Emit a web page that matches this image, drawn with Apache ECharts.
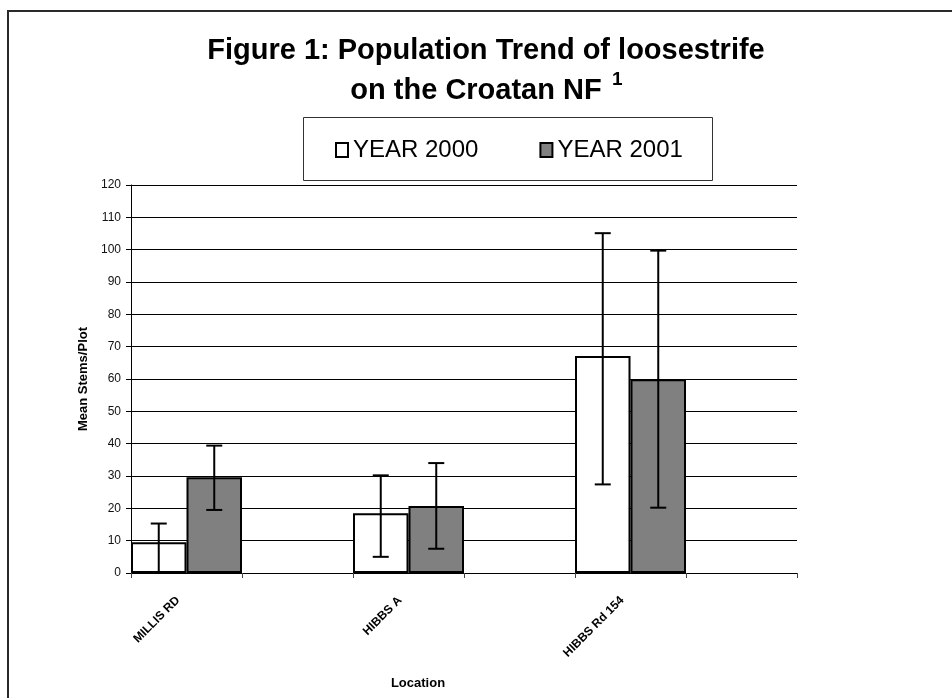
<!DOCTYPE html>
<html>
<head>
<meta charset="utf-8">
<script src="https://cdn.jsdelivr.net/npm/echarts@6/dist/echarts.min.js"></script>
<style>
html,body{margin:0;padding:0;background:#fff;}
#main{width:952px;height:698px;}
</style>
</head>
<body>
<div id="main"></div>
<script>
var categories = ['MILLIS RD', '', 'HIBBS A', '', 'HIBBS Rd 154', ''];
var seriesNames = ['YEAR 2000', 'YEAR 2001'];
var values2000 = [9.5, null, 18.5, null, 67.1, null];
var values2001 = [29.6, null, 20.7, null, 59.9, null];
var err2000Low = [0, null, 5.0, null, 27.4, null];
var err2000High = [15.3, null, 30.2, null, 105.1, null];
var err2001Low = [19.5, null, 7.5, null, 20.2, null];
var err2001High = [39.4, null, 34.0, null, 99.7, null];
var yTicks = [0, 10, 20, 30, 40, 50, 60, 70, 80, 90, 100, 110, 120];

var FONT = '"Liberation Sans", Arial, sans-serif';

function errData(low, high) {
  var out = [];
  for (var i = 0; i < low.length; i++) {
    if (low[i] !== null && high[i] !== null) out.push([i, low[i], high[i]]);
  }
  return out;
}

function makeErrRender(side) {
  return function (params, api) {
    var cat = api.value(0);
    var lo = api.coord([cat, api.value(1)]);
    var hi = api.coord([cat, api.value(2)]);
    var band = api.size([1, 0])[0];
    var x = lo[0] + side * band / 4;
    var cap = 8;
    var st = { stroke: '#000', lineWidth: 2 };
    return {
      type: 'group',
      children: [
        { type: 'line', shape: { x1: x, y1: hi[1], x2: x, y2: lo[1] }, style: st },
        { type: 'line', shape: { x1: x - cap, y1: hi[1], x2: x + cap, y2: hi[1] }, style: st },
        { type: 'line', shape: { x1: x - cap, y1: lo[1], x2: x + cap, y2: lo[1] }, style: st }
      ]
    };
  };
}

var chart = echarts.init(document.getElementById('main'), null, { renderer: 'canvas' });

var option = {
  backgroundColor: '#fff',
  animation: false,
  textStyle: { fontFamily: FONT },
  graphic: [
    { type: 'rect', shape: { x: 8, y: 11, width: 980, height: 720 }, style: { fill: 'none', stroke: '#2a2a2a', lineWidth: 2 }, z: 0 },
    { type: 'text', x: 486, y: 50.5, style: { text: 'Figure 1: Population Trend of loosestrife', font: 'bold 29px ' + FONT, fill: '#000', textAlign: 'center', textVerticalAlign: 'middle' } },
    { type: 'text', x: 476, y: 91, style: { text: 'on the Croatan NF', font: 'bold 29px ' + FONT, fill: '#000', textAlign: 'center', textVerticalAlign: 'middle' } },
    { type: 'text', x: 612, y: 80, style: { text: '1', font: 'bold 19px ' + FONT, fill: '#000', textAlign: 'left', textVerticalAlign: 'middle' } },
    { type: 'rect', shape: { x: 303.5, y: 117.5, width: 409, height: 63 }, style: { fill: '#fff', stroke: '#333', lineWidth: 1 }, z: 1 },
    { type: 'text', x: 418, y: 683, style: { text: 'Location', font: 'bold 13px ' + FONT, fill: '#000', textAlign: 'center', textVerticalAlign: 'middle' } }
  ],
  legend: {
    data: [
      { name: seriesNames[0], itemStyle: { color: '#fff', borderColor: '#000', borderWidth: 2 } },
      { name: seriesNames[1], itemStyle: { color: '#808080', borderColor: '#000', borderWidth: 2 } }
    ],
    left: 335,
    top: 138,
    padding: 0,
    icon: 'rect',
    itemWidth: 12,
    itemHeight: 14,
    itemGap: 61,
    itemTextGap: 3,
    selectedMode: false,
    z: 5,
    textStyle: { fontSize: 24, color: '#000', fontFamily: FONT }
  },
  grid: { left: 131, right: 155, top: 185, bottom: 125, containLabel: false },
  xAxis: {
    type: 'category',
    data: categories,
    boundaryGap: true,
    axisLine: { lineStyle: { color: '#000', width: 1 } },
    axisTick: { show: true, alignWithLabel: false, interval: 0, length: 5, lineStyle: { color: '#444' } },
    axisLabel: { interval: 0, rotate: 45, margin: 17, padding: [0, 12, 0, 0], fontSize: 12, fontWeight: 'bold', color: '#000', fontFamily: FONT },
    splitLine: { show: false }
  },
  yAxis: {
    type: 'value',
    min: yTicks[0],
    max: yTicks[yTicks.length - 1],
    interval: yTicks[1] - yTicks[0],
    name: 'Mean Stems/Plot',
    nameLocation: 'middle',
    nameGap: 40,
    nameTextStyle: { fontSize: 13, fontWeight: 'bold', color: '#000', fontFamily: FONT },
    axisLine: { show: true, lineStyle: { color: '#000', width: 1 } },
    axisTick: { show: true, length: 5, lineStyle: { color: '#000' } },
    axisLabel: { fontSize: 12, color: '#111', margin: 10, fontFamily: FONT },
    splitLine: { show: true, lineStyle: { color: '#000', width: 1 } }
  },
  series: [
    {
      name: seriesNames[0], type: 'bar', data: values2000,
      barGap: '0%', barCategoryGap: '0%',
      itemStyle: { color: '#fff', borderColor: '#000', borderWidth: 2 },
      z: 2
    },
    {
      name: seriesNames[1], type: 'bar', data: values2001,
      barGap: '0%', barCategoryGap: '0%',
      itemStyle: { color: '#808080', borderColor: '#000', borderWidth: 2 },
      z: 2
    },
    {
      name: 'err2000', type: 'custom', data: errData(err2000Low, err2000High),
      renderItem: makeErrRender(-1), z: 3, encode: { x: 0, y: [1, 2] }
    },
    {
      name: 'err2001', type: 'custom', data: errData(err2001Low, err2001High),
      renderItem: makeErrRender(1), z: 3, encode: { x: 0, y: [1, 2] }
    }
  ]
};
chart.setOption(option);
</script>
</body>
</html>
